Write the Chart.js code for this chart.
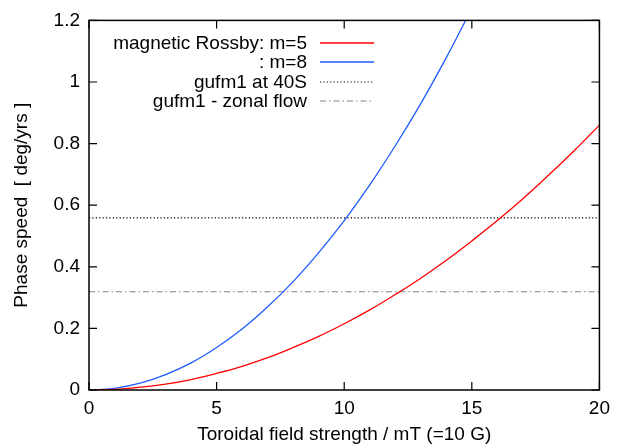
<!DOCTYPE html>
<html>
<head>
<meta charset="utf-8">
<script src="https://cdn.jsdelivr.net/npm/chart.js@4"></script>
<style>
  html, body { margin: 0; padding: 0; background: #fff; }
  #wrap { width: 617px; height: 446px; }
</style>
</head>
<body>
<div id="wrap"><canvas id="c" width="617" height="446"></canvas></div>
<script>
// field strength in mT
const fieldStrength = [0, 1, 2, 3, 4, 5, 6, 7, 8, 9, 10, 11, 12, 13, 14, 15, 16, 17, 18, 19, 20];
// phase speeds, deg/yr
const rossbyM5 = [0, 0.002, 0.009, 0.019, 0.034, 0.054, 0.077, 0.105, 0.138, 0.174, 0.215,
                  0.26, 0.31, 0.363, 0.421, 0.484, 0.55, 0.621, 0.697, 0.776, 0.86];
const rossbyM8 = [0, 0.0055, 0.022, 0.05, 0.088, 0.138, 0.198, 0.27, 0.352, 0.446, 0.55,
                  0.666, 0.793, 0.93, 1.079, 1.239];
const gufm40S = 0.559;
const gufmZonal = 0.319;
const xTicks = [0, 5, 10, 15, 20];
const yTicks = [0, 0.2, 0.4, 0.6, 0.8, 1, 1.2];

const legendLabels = ['magnetic Rossby: m=5', ': m=8', 'gufm1 at 40S', 'gufm1 - zonal flow'];

function pts(xs, ys) {
  return ys.map((y, i) => ({ x: xs[i], y: y }));
}

const FONT = 'Liberation Sans, Arial, sans-serif';
const FS = 19;

// gnuplot-style frame, inward ticks and the key
const framePlugin = {
  id: 'frame',
  afterDatasetsDraw(chart) {
    const { ctx, chartArea: a, scales } = chart;
    ctx.save();
    ctx.strokeStyle = '#000';
    ctx.lineWidth = 1.5;
    ctx.strokeRect(a.left, a.top, a.right - a.left, a.bottom - a.top);
    ctx.lineWidth = 1.2;
    ctx.beginPath();
    xTicks.forEach(v => {
      const px = scales.x.getPixelForValue(v);
      ctx.moveTo(px, a.bottom); ctx.lineTo(px, a.bottom - 8);
      ctx.moveTo(px, a.top); ctx.lineTo(px, a.top + 8);
    });
    yTicks.forEach(v => {
      const py = scales.y.getPixelForValue(v);
      ctx.moveTo(a.left, py); ctx.lineTo(a.left + 8, py);
      ctx.moveTo(a.right, py); ctx.lineTo(a.right - 8, py);
    });
    ctx.stroke();

    // key
    ctx.font = FS + 'px ' + FONT;
    ctx.textAlign = 'right';
    ctx.textBaseline = 'middle';
    const rows = [43, 62, 82, 101];
    chart.data.datasets.forEach((ds, i) => {
      const y = rows[i];
      ctx.fillStyle = '#000';
      ctx.fillText(legendLabels[i], 307, y + 1);
      ctx.strokeStyle = ds.borderColor;
      ctx.lineWidth = ds.borderWidth;
      ctx.setLineDash(ds.borderDash || []);
      ctx.beginPath();
      ctx.moveTo(320, y); ctx.lineTo(374, y);
      ctx.stroke();
    });
    ctx.restore();
  }
};

new Chart(document.getElementById('c'), {
  type: 'scatter',
  data: {
    datasets: [
      {
        label: legendLabels[0],
        data: pts(fieldStrength, rossbyM5),
        showLine: true, pointRadius: 0, tension: 0.4,
        borderColor: '#ff0000', borderWidth: 1.3
      },
      {
        label: legendLabels[1],
        data: pts(fieldStrength, rossbyM8),
        showLine: true, pointRadius: 0, tension: 0.4,
        borderColor: '#1f5cff', borderWidth: 1.3
      },
      {
        label: legendLabels[2],
        data: [{ x: 0, y: gufm40S }, { x: 20, y: gufm40S }],
        showLine: true, pointRadius: 0,
        borderColor: '#000', borderWidth: 1.2, borderDash: [1.2, 2.2]
      },
      {
        label: legendLabels[3],
        data: [{ x: 0, y: gufmZonal }, { x: 20, y: gufmZonal }],
        showLine: true, pointRadius: 0,
        borderColor: '#888080', borderWidth: 1.2, borderDash: [6, 3, 1.5, 3]
      }
    ]
  },
  options: {
    responsive: false,
    animation: false,
    layout: { padding: { top: 20, right: 14, left: 0, bottom: 0 } },
    plugins: { legend: { display: false }, tooltip: { enabled: false } },
    scales: {
      x: {
        type: 'linear', min: 0, max: 20,
        afterBuildTicks: s => { s.ticks = xTicks.map(v => ({ value: v })); },
        afterFit: s => { s.height = 56; },
        grid: { display: false, drawTicks: false },
        border: { display: false },
        ticks: { color: '#000', font: { family: FONT, size: FS }, padding: 7, maxRotation: 0 },
        title: {
          display: true, text: 'Toroidal field strength / mT (=10 G)',
          color: '#000', font: { family: FONT, size: FS }, padding: { top: 0, bottom: 0 }
        }
      },
      y: {
        type: 'linear', min: 0, max: 1.2,
        afterBuildTicks: s => { s.ticks = yTicks.map(v => ({ value: v })); },
        afterFit: s => { s.width = 89; },
        grid: { display: false, drawTicks: false },
        border: { display: false },
        ticks: {
          color: '#000', font: { family: FONT, size: FS }, padding: 9,
          callback: v => String(Math.round(v * 10) / 10)
        },
        title: {
          display: true, text: 'Phase speed  [ deg/yrs ]',
          color: '#000', font: { family: FONT, size: FS }, padding: { top: 10, bottom: 0 }
        }
      }
    }
  },
  plugins: [framePlugin]
});
</script>
</body>
</html>
